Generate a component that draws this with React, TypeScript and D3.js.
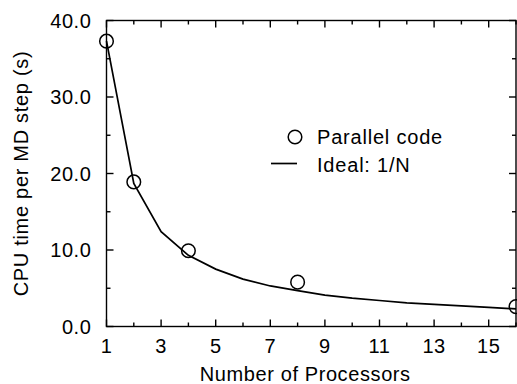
import React, { useEffect, useRef } from 'react';
import * as d3 from 'd3';

// processors used in the runs, and measured CPU time per MD step (s)
const procs = [1, 2, 4, 8, 16];
const measured = [37.3, 18.9, 9.9, 5.8, 2.6];

// ideal 1/N scaling at each N
const idealN = [1, 2, 3, 4, 5, 6, 7, 8, 9, 10, 11, 12, 13, 14, 15, 16];
const idealT = [37.3, 18.7, 12.4, 9.3, 7.5, 6.2, 5.3, 4.7, 4.1, 3.7, 3.4, 3.1, 2.9, 2.7, 2.5, 2.3];

const xMajor = [1, 3, 5, 7, 9, 11, 13, 15];
const xMinor = [2, 4, 6, 8, 10, 12, 14, 16];
const yMajor = [0, 10, 20, 30, 40];
const yMinor = [5, 15, 25, 35];

const legendLabels = ['Parallel code', 'Ideal: 1/N'];

const W = 517;
const H = 384;
const margin = { top: 20.5, right: 1, bottom: 57.5, left: 106.5 };
const font = '"Liberation Sans", Arial, Helvetica, sans-serif';

const App = () => {
  const ref = useRef<SVGSVGElement>(null);

  useEffect(() => {
    const node = ref.current;
    if (!node) return;
    const svg = d3.select(node);
    svg.selectAll('*').remove();

    const width = W - margin.left - margin.right;
    const height = H - margin.top - margin.bottom;

    const x = d3.scaleLinear().domain([1, 16]).range([0, width]);
    const y = d3.scaleLinear().domain([0, 40]).range([height, 0]);

    const g = svg.append('g').attr('transform', `translate(${margin.left},${margin.top})`);

    // frame
    g.append('rect')
      .attr('width', width)
      .attr('height', height)
      .attr('fill', 'none')
      .attr('stroke', '#000')
      .attr('stroke-width', 1.4);

    const tick = (x1, y1, x2, y2) =>
      g.append('line')
        .attr('x1', x1).attr('y1', y1).attr('x2', x2).attr('y2', y2)
        .attr('stroke', '#000').attr('stroke-width', 1.4);

    // inward ticks on all four sides
    xMajor.forEach(v => { tick(x(v), height, x(v), height - 7); tick(x(v), 0, x(v), 7); });
    xMinor.forEach(v => { tick(x(v), height, x(v), height - 4); tick(x(v), 0, x(v), 4); });
    yMajor.forEach(v => { tick(0, y(v), 7, y(v)); tick(width, y(v), width - 7, y(v)); });
    yMinor.forEach(v => { tick(0, y(v), 4, y(v)); tick(width, y(v), width - 4, y(v)); });

    // tick labels
    g.selectAll('.xl').data(xMajor).enter().append('text')
      .attr('x', d => x(d))
      .attr('y', height + 26)
      .attr('text-anchor', 'middle')
      .style('font-family', font)
      .style('font-size', '20px')
      .style('letter-spacing', '0.5px')
      .text(d => d);

    g.selectAll('.yl').data(yMajor).enter().append('text')
      .attr('x', -15)
      .attr('y', d => y(d))
      .attr('dy', '0.36em')
      .attr('text-anchor', 'end')
      .style('font-family', font)
      .style('font-size', '20px')
      .style('letter-spacing', '0.6px')
      .text(d => d3.format('.1f')(d));

    // axis titles
    g.append('text')
      .attr('x', width / 2 - 6)
      .attr('y', height + 54)
      .attr('text-anchor', 'middle')
      .style('font-family', font)
      .style('font-size', '20px')
      .style('letter-spacing', '0.6px')
      .text('Number of Processors');

    g.append('text')
      .attr('transform', `translate(${28 - margin.left},${height / 2}) rotate(-90)`)
      .attr('text-anchor', 'middle')
      .style('font-family', font)
      .style('font-size', '20px')
      .style('letter-spacing', '0.7px')
      .text('CPU time per MD step (s)');

    // ideal line
    const line = d3.line<number>()
      .x((d, i) => x(idealN[i]))
      .y(d => y(d));
    g.append('path')
      .datum(idealT)
      .attr('d', line)
      .attr('fill', 'none')
      .attr('stroke', '#000')
      .attr('stroke-width', 1.7);

    // measured points
    g.selectAll('.pt').data(measured).enter().append('circle')
      .attr('cx', (d, i) => x(procs[i]))
      .attr('cy', d => y(d))
      .attr('r', 6.8)
      .attr('fill', 'none')
      .attr('stroke', '#000')
      .attr('stroke-width', 1.5);

    // legend
    const lg = g.append('g').attr('transform', `translate(${295 - margin.left},${137 - margin.top})`);
    lg.append('circle')
      .attr('r', 6.8)
      .attr('fill', 'none')
      .attr('stroke', '#000')
      .attr('stroke-width', 1.5);
    lg.append('line')
      .attr('x1', -24).attr('x2', 2)
      .attr('y1', 26.5).attr('y2', 26.5)
      .attr('stroke', '#000')
      .attr('stroke-width', 1.7);
    lg.selectAll('.lt').data(legendLabels).enter().append('text')
      .attr('x', 22)
      .attr('y', (d, i) => i * 28)
      .attr('dy', '0.36em')
      .style('font-family', font)
      .style('font-size', '20px')
      .style('letter-spacing', '0.8px')
      .text(d => d);
  }, []);

  return (
    <div style={{ position: 'fixed', left: 0, top: 0 }}>
      <svg ref={ref} width={W} height={H} style={{ display: 'block', background: '#fff' }} />
    </div>
  );
};

export default App;
